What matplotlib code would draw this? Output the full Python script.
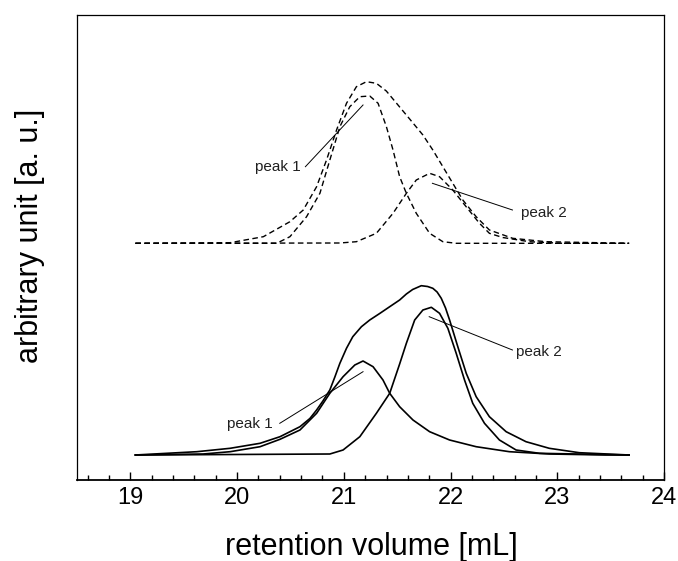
import matplotlib.pyplot as plt
from matplotlib.ticker import MultipleLocator

plt.rcParams['font.family'] = ['Liberation Sans', 'DejaVu Sans']

# lower trace (solid): measured profile and the two fitted peaks
low_x = [19.047, 19.343, 19.623, 19.935, 20.215, 20.402, 20.589, 20.682, 20.745, 20.804, 20.869,
         20.916, 20.963, 21.025, 21.084, 21.165, 21.243, 21.336, 21.430, 21.523, 21.586, 21.645,
         21.726, 21.785, 21.834, 21.874, 21.913, 21.953, 21.991, 22.068, 22.147, 22.240, 22.364,
         22.521, 22.707, 22.925, 23.206, 23.673]
low_y = [0.25, 0.267, 0.283, 0.317, 0.367, 0.433, 0.533, 0.615, 0.70, 0.79, 0.90,
         1.03, 1.167, 1.317, 1.433, 1.533, 1.60, 1.665, 1.733, 1.80, 1.86, 1.905,
         1.943, 1.935, 1.917, 1.88, 1.817, 1.72, 1.60, 1.333, 1.067, 0.833, 0.633,
         0.483, 0.383, 0.317, 0.273, 0.25]

low_p1_x = [19.047, 19.682, 19.935, 20.215, 20.402, 20.589, 20.745, 20.869, 20.993, 21.103, 21.180,
            21.274, 21.367, 21.430, 21.523, 21.648, 21.804, 21.991, 22.240, 22.551, 22.925, 23.455, 23.673]
low_p1_y = [0.25, 0.26, 0.283, 0.333, 0.407, 0.50, 0.667, 0.867, 1.033, 1.15, 1.19,
            1.133, 1.00, 0.867, 0.733, 0.60, 0.483, 0.40, 0.333, 0.283, 0.26, 0.25, 0.25]

low_p2_x = [19.047, 20.869, 20.993, 21.150, 21.305, 21.430, 21.523, 21.586, 21.664, 21.741, 21.820,
            21.897, 21.975, 22.053, 22.131, 22.208, 22.318, 22.458, 22.614, 22.832, 23.673]
low_p2_y = [0.25, 0.26, 0.30, 0.433, 0.667, 0.867, 1.16, 1.367, 1.60, 1.70, 1.727,
            1.667, 1.517, 1.267, 1.00, 0.767, 0.567, 0.40, 0.30, 0.267, 0.25]

# upper trace (dashed)
up_x = [19.047, 19.935, 20.246, 20.495, 20.620, 20.745, 20.838, 20.932, 21.025, 21.118, 21.212,
        21.305, 21.398, 21.492, 21.617, 21.741, 21.834, 21.928, 22.021, 22.115, 22.240, 22.364,
        22.582, 22.894, 23.673]
up_y = [2.367, 2.373, 2.433, 2.583, 2.70, 2.933, 3.20, 3.50, 3.767, 3.933, 3.983,
        3.967, 3.89, 3.77, 3.61, 3.45, 3.30, 3.133, 2.967, 2.80, 2.633, 2.50,
        2.417, 2.383, 2.367]

up_p1_x = [19.047, 20.371, 20.495, 20.651, 20.776, 20.869, 20.963, 21.056, 21.150, 21.243, 21.321,
           21.399, 21.461, 21.523, 21.586, 21.679, 21.804, 21.928, 22.053, 23.673]
up_p1_y = [2.367, 2.367, 2.433, 2.633, 2.867, 3.20, 3.533, 3.733, 3.833, 3.84, 3.767,
           3.533, 3.30, 3.033, 2.867, 2.667, 2.467, 2.383, 2.367, 2.367]

up_p2_x = [19.047, 20.963, 21.118, 21.305, 21.461, 21.586, 21.679, 21.804, 21.897, 22.021, 22.146,
           22.271, 22.364, 22.489, 22.738, 23.049, 23.673]
up_p2_y = [2.367, 2.37, 2.383, 2.467, 2.667, 2.867, 3.00, 3.067, 3.033, 2.90, 2.733,
           2.567, 2.467, 2.425, 2.383, 2.367, 2.367]

# label text, label anchor, pointer start, pointer end
notes = [
    ('peak 1', (20.60, 3.13), (20.64, 3.133), (21.18, 3.75), 'right'),
    ('peak 2', (22.66, 2.667), (22.58, 2.70), (21.83, 2.967), 'left'),
    ('peak 1', (20.33, 0.557), (20.40, 0.567), (21.18, 1.083), 'right'),
    ('peak 2', (22.61, 1.277), (22.58, 1.30), (21.80, 1.633), 'left'),
]

fig = plt.figure(figsize=(6.78, 5.61), dpi=100)
ax = fig.add_axes([77 / 678, 81 / 561, 587 / 678, 465 / 561])

dash = (0, (4, 2.5))
for xs, ys in [(up_x, up_y), (up_p1_x, up_p1_y), (up_p2_x, up_p2_y)]:
    ax.plot(xs, ys, color='black', lw=1.0, linestyle=dash, dash_joinstyle='round')
for xs, ys in [(low_x, low_y), (low_p1_x, low_p1_y), (low_p2_x, low_p2_y)]:
    ax.plot(xs, ys, color='black', lw=1.2, solid_joinstyle='round')

for txt, pos, p0, p1, ha in notes:
    ax.plot([p0[0], p1[0]], [p0[1], p1[1]], color='black', lw=0.7)
    ax.text(pos[0], pos[1], txt, ha=ha, va='center', fontsize=11, color='#202020')

ax.set_xlim(18.5, 24)
ax.set_ylim(0, 4.65)
ax.set_yticks([])
ax.xaxis.set_major_locator(MultipleLocator(1))
ax.xaxis.set_minor_locator(MultipleLocator(0.2))
ax.tick_params(axis='x', which='major', direction='in', length=6, width=1, labelsize=17, pad=5)
ax.tick_params(axis='x', which='minor', direction='in', length=3.6, width=1)
for s in ax.spines.values():
    s.set_linewidth(0.9)
ax.spines['bottom'].set_linewidth(1.3)

fig.text(371 / 678, 1 - 547 / 561, 'retention volume [mL]', ha='center', va='center', fontsize=22)
fig.text(30 / 678, 1 - 236 / 561, 'arbitrary unit [a. u.]', ha='center', va='center',
         rotation=90, fontsize=22)

fig.savefig('out.png', dpi=100)
